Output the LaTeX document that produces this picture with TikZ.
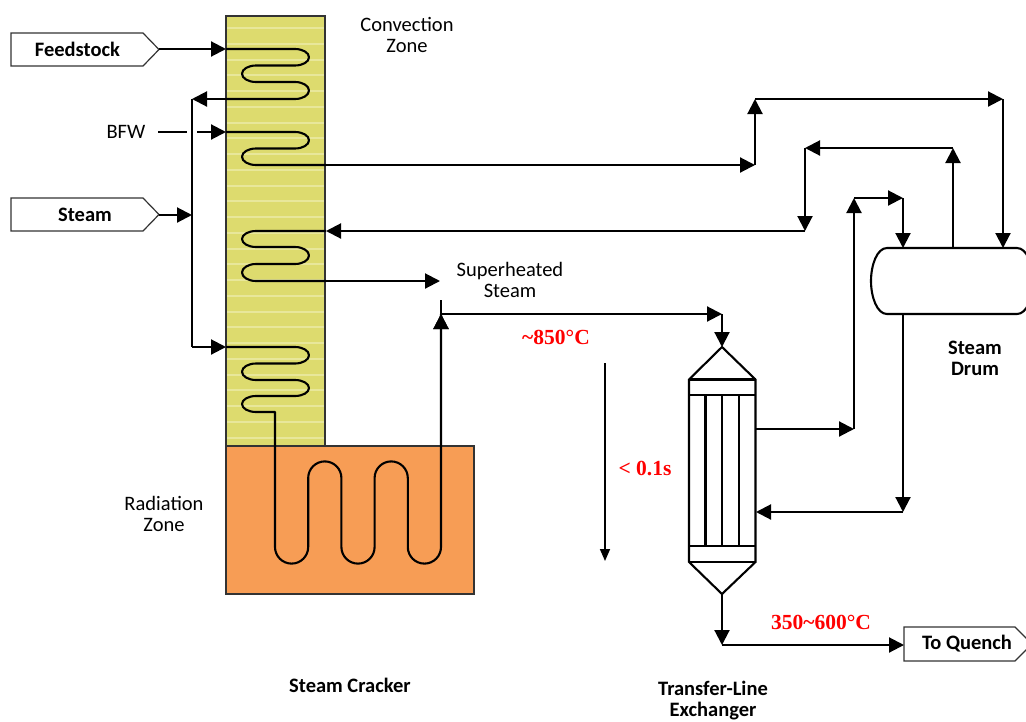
\documentclass[tikz,border=0pt]{standalone}
\usepackage{fontspec}
\setmainfont{Carlito}
\newfontfamily\redfont{Liberation Serif}
\usetikzlibrary{arrows.meta}
\definecolor{convfill}{HTML}{DDDB6E}
\definecolor{convstripe}{HTML}{E8E79A}
\definecolor{radfill}{HTML}{F79D55}
\definecolor{boxline}{HTML}{333333}
\tikzset{
  x=1pt,y=-1pt,
  flow/.style={line width=2.1pt,black,-{Triangle[length=15pt,width=15pt]},shorten >=0pt},
  pipe/.style={line width=2.1pt,black,line join=round},
  equip/.style={line width=2.1pt,black,line join=miter,fill=white},
  tagbox/.style={draw=boxline,line width=1.2pt,fill=white},
  zonebox/.style={draw=boxline,line width=1.2pt},
  plain/.style={inner sep=0pt,font=\fontsize{20.5}{21}\selectfont,align=center},
  heavy/.style={inner sep=0pt,font=\fontsize{20.5}{21}\selectfont\bfseries,align=center},
  hot/.style={inner sep=0pt,text=red,font=\fontsize{21.5}{22}\selectfont\redfont\bfseries},
}
\begin{document}
\begin{tikzpicture}
\useasboundingbox (0,0) rectangle (1026,721);
\clip (0,0) rectangle (1026,721);
\fill[white] (0,0) rectangle (1026,721);
% zones
\fill[convfill] (226,16) rectangle (325,446);
\foreach \y in {28,44,60,75,91,107,123,138,154,170,186,201,217,233,249,264,280,296,312,327,343,359,375,390,406,422,438}
  \draw[convstripe,line width=1.2pt] (227,\y) -- (324,\y);
\draw[zonebox] (226,16) rectangle (325,446);
\draw[zonebox,fill=radfill] (226,446) rectangle (474,594);
% named points
\coordinate (feedOut) at (159,49);
\coordinate (c1in) at (226,49);
\coordinate (hdrTop) at (192,99);
\coordinate (bfwEnd) at (187,132);
\coordinate (bfwGap) at (197,132);
\coordinate (c2in) at (226,132);
\coordinate (steamOut) at (159,215);
\coordinate (hdrMid) at (192,215);
\coordinate (hdrBot) at (192,347);
\coordinate (c3in) at (226,347);
\coordinate (c2out) at (326,165);
\coordinate (riseA) at (755,165);
\coordinate (riseB) at (755,99);
\coordinate (topR) at (1003,99);
\coordinate (drumA) at (1003,248);
\coordinate (drumB) at (953,248);
\coordinate (retA) at (953,148);
\coordinate (retB) at (805,148);
\coordinate (retC) at (805,231);
\coordinate (c4in) at (326,231);
\coordinate (shOut) at (441,281);
\coordinate (radOut) at (441,314);
\coordinate (tleIn) at (722,314);
\coordinate (apexT) at (722,347);
\coordinate (apexB) at (722,594);
\coordinate (tleOutC) at (722,645);
\coordinate (quench) at (904,645);
\coordinate (shellOut) at (756,429);
\coordinate (upA) at (854,429);
\coordinate (upB) at (854,198);
\coordinate (upC) at (903,198);
\coordinate (drumC) at (903,248);
\coordinate (drumD) at (903,314);
\coordinate (downA) at (903,512);
\coordinate (shellIn) at (756,512);
\coordinate (timeA) at (605,363);
\coordinate (timeB) at (605,561);
% tags
\draw[tagbox] (11,33) -- (143,33) -- (159,49.5) -- (143,66) -- (11,66) -- cycle;
\draw[tagbox] (11,198) -- (143,198) -- (159,214.5) -- (143,231) -- (11,231) -- cycle;
\draw[tagbox] (904,627) -- (1015,627) -- (1032,644) -- (1015,661) -- (904,661) -- cycle;
% coils
\draw[pipe] (c1in) -- (295,49) arc[start angle=-90,end angle=90,x radius=14,y radius=8.25]
  -- (256,65.5) arc[start angle=-90,end angle=-270,x radius=14,y radius=8.25]
  -- (295,82) arc[start angle=-90,end angle=90,x radius=14,y radius=8.5] -- (226,99);
\draw[flow] (226,99) -- (hdrTop);
\draw[pipe] (c2in) -- (295,132) arc[start angle=-90,end angle=90,x radius=14,y radius=8.25]
  -- (256,148.5) arc[start angle=-90,end angle=-270,x radius=14,y radius=8.25] -- (c2out);
\draw[pipe] (c4in) -- (256,231) arc[start angle=-90,end angle=-270,x radius=14,y radius=8]
  -- (295,247) arc[start angle=-90,end angle=90,x radius=14,y radius=8.5]
  -- (256,264) arc[start angle=-90,end angle=-270,x radius=14,y radius=8.5] -- (326,281);
\draw[pipe] (c3in) -- (295,347) arc[start angle=-90,end angle=90,x radius=14,y radius=8.25]
  -- (256,363.5) arc[start angle=-90,end angle=-270,x radius=14,y radius=8.25]
  -- (295,380) arc[start angle=-90,end angle=90,x radius=14,y radius=8]
  -- (256,396) arc[start angle=-90,end angle=-270,x radius=14,y radius=8]
  -- (275,412) -- (275,547) arc[start angle=180,end angle=0,radius=16.6]
  -- (308.2,478) arc[start angle=180,end angle=360,radius=16.6]
  -- (341.4,547) arc[start angle=180,end angle=0,radius=16.6]
  -- (374.6,478) arc[start angle=180,end angle=360,radius=16.6]
  -- (407.8,547) arc[start angle=180,end angle=0,radius=16.6] -- (radOut);
% connectors
\draw[flow] (feedOut) -- (c1in);
\draw[pipe] (hdrTop) -- (hdrBot);
\draw[pipe] (158,132) -- (bfwEnd);
\draw[flow] (bfwGap) -- (c2in);
\draw[flow] (steamOut) -- (hdrMid);
\draw[flow] (hdrBot) -- (c3in);
\draw[flow] (c2out) -- (riseA);
\draw[flow] (riseA) -- (riseB);
\draw[flow] (riseB) -- (topR);
\draw[flow] (topR) -- (drumA);
\draw[flow] (drumB) -- (retA);
\draw[flow] (retA) -- (retB);
\draw[flow] (retB) -- (retC);
\draw[flow] (retC) -- (c4in);
\draw[flow] (326,281) -- (shOut -| 440,281);
\draw[flow] (radOut) -- (441,314);
\draw[flow] (441,400) -- (radOut);
\draw[flow] (radOut) -- (tleIn);
\draw[flow] (tleIn) -- (apexT);
\draw[flow] (apexB) -- (tleOutC);
\draw[flow] (tleOutC) -- (quench);
\draw[flow] (shellOut) -- (upA);
\draw[flow] (upA) -- (upB);
\draw[flow] (upB) -- (upC);
\draw[flow] (upC) -- (drumC);
\draw[flow] (drumD) -- (downA);
\draw[flow] (downA) -- (shellIn);
\draw[flow,line width=1.6pt,-{Triangle[length=12pt,width=10pt]}] (timeA) -- (timeB);
% exchanger
\draw[equip] (apexT) -- (755.5,379.5) -- (755.5,562) -- (apexB) -- (689,562) -- (689,379.5) -- cycle;
\draw[pipe] (689,379.5) -- (755.5,379.5) (689,395) -- (755.5,395) (689,546) -- (755.5,546) (689,562) -- (755.5,562);
\draw[pipe] (705.5,395) -- (705.5,546) (722,395) -- (722,546) (738.7,395) -- (738.7,546);
% drum
\draw[equip] (1017,248) -- (887,248) .. controls (877,248) and (871,265) .. (871,281) .. controls (871,297) and (877,314) .. (887,314) -- (1017,314) .. controls (1027,314) and (1033,297) .. (1033,281) .. controls (1033,265) and (1027,248) .. (1017,248) -- cycle;
% labels
\node[heavy] (lfeed) at (77.5,49) {Feedstock};
\node[heavy] (lsteam) at (85,215) {Steam};
\node[heavy] (lquench) at (967,644) {To Quench};
\node[plain] (lbfw) at (126,132) {BFW};
\node[plain] (lconv) at (407,34.5) {Convection\\Zone};
\node[plain] (lsh) at (510,279.5) {Superheated\\Steam};
\node[plain] (lrad) at (164,513.5) {Radiation\\Zone};
\node[heavy] (ldrum) at (975,358.5) {Steam\\Drum};
\node[heavy] (lcrack) at (350,685) {Steam Cracker};
\node[heavy] (ltle) at (713,700.5) {Transfer-Line\\Exchanger};
\node[hot] (l850) at (556,337) {\textasciitilde850°C};
\node[hot] (ltime) at (645,468) {< 0.1s};
\node[hot] (l350) at (821,622) {350\textasciitilde600°C};
\end{tikzpicture}
\end{document}
